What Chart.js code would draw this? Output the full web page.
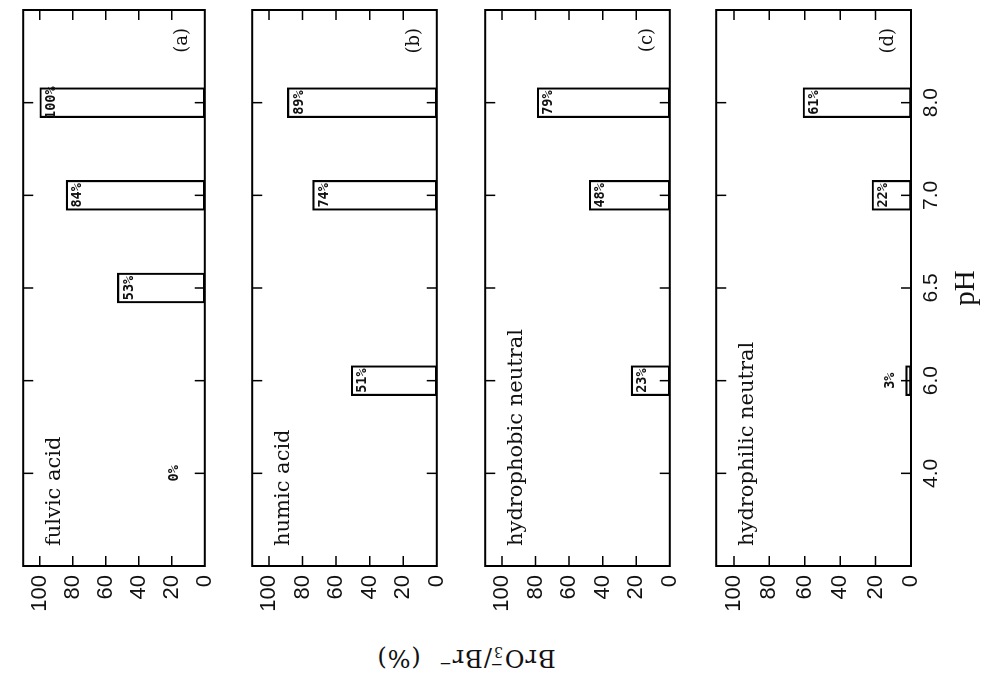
<!DOCTYPE html>
<html>
<head>
<meta charset="utf-8">
<script src="https://cdn.jsdelivr.net/npm/chart.js@4.4.1/dist/chart.umd.min.js"></script>
<style>
  html, body { margin: 0; padding: 0; background: #fff; overflow: hidden; width: 985px; height: 677px; }
  /* the figure is drawn upright, then turned a quarter left like the scan */
  #sheet { position: absolute; left: 154px; top: -154px; width: 677px; height: 985px;
           transform: rotate(-90deg); transform-origin: 50% 50%; background: #fff; }
  #sheet canvas { position: absolute; left: 0; }
  #ytitle { position: absolute; left: 21px; top: 466px; transform: translate(-50%, -50%) rotate(-90deg);
            font-family: "DejaVu Serif"; font-size: 24px; letter-spacing: 1px; white-space: nowrap; color: #111; line-height: 30px; }
  .ion { display: inline-block; position: relative; width: 12px; height: 10px; }
  .ion .m { position: absolute; left: 1px; top: -12px; font-size: 15px; line-height: 15px; }
  .ion .n { position: absolute; left: 1px; top: 1px; font-size: 14px; line-height: 14px; }
  .sup { font-size: 15px; position: relative; top: -9px; }
</style>
</head>
<body>
<div id="sheet">
  <div id="ytitle">BrO<span class="ion"><span class="m">−</span><span class="n">3</span></span>/Br<span class="sup">−</span>&nbsp;&nbsp;(%)</div>
</div>
<script>
// pH categories and BrO3-/Br- conversion (%) for each fraction
const phLabels = ['4.0', '6.0', '6.5', '7.0', '8.0'];
const fulvicAcid = [0, null, 53, 84, 100];
const humicAcid = [null, 51, null, 74, 89];
const hydrophobicNeutral = [null, 23, null, 48, 79];
const hydrophilicNeutral = [null, 3, null, 22, 61];
const percentTicks = [0, 20, 40, 60, 80, 100];
const panelNames = ['fulvic acid', 'humic acid', 'hydrophobic neutral', 'hydrophilic neutral'];
const panelTags = ['(a)', '(b)', '(c)', '(d)'];

// panel frames in the upright sheet
const panelTop = [11, 240, 473, 704];
const panelBottom = [217, 449, 682, 911];

const panelDeco = {
    id: 'panelDeco',
    afterDatasetsDraw(chart, args, opts) {
        const { ctx, chartArea: a, scales: { x, y } } = chart;
        ctx.save();
        ctx.strokeStyle = '#000';
        ctx.lineWidth = 2;
        ctx.strokeRect(a.left, a.top, a.right - a.left, a.bottom - a.top);

        // inward ticks on all four sides
        ctx.lineWidth = 1.5;
        ctx.beginPath();
        chart.data.labels.forEach((lab, i) => {
            if (!lab) return;
            const px = x.getPixelForValue(i);
            ctx.moveTo(px, a.top); ctx.lineTo(px, a.top + 10);
            ctx.moveTo(px, a.bottom); ctx.lineTo(px, a.bottom - 10);
        });
        percentTicks.forEach(v => {
            if (v === 0) return;
            const py = y.getPixelForValue(v);
            ctx.moveTo(a.left, py); ctx.lineTo(a.left + 10, py);
            ctx.moveTo(a.right, py); ctx.lineTo(a.right - 10, py);
        });
        ctx.stroke();

        // value labels on the bars
        const meta = chart.getDatasetMeta(0);
        const vals = chart.data.datasets[0].data;
        ctx.fillStyle = '#111';
        ctx.font = 'bold 13.5px "DejaVu Sans Mono"';
        ctx.textAlign = 'center';
        meta.data.forEach((bar, i) => {
            const v = vals[i];
            if (v === null || v === undefined) return;
            if (v >= 10) {
                ctx.textBaseline = 'top';
                ctx.fillText(v + '%', bar.x, bar.y + 5);
            } else {
                ctx.textBaseline = 'bottom';
                ctx.fillText(v + '%', bar.x, bar.y - (v === 0 ? 24 : 8));
            }
        });

        // fraction name and panel letter
        ctx.textBaseline = 'alphabetic';
        ctx.textAlign = 'left';
        ctx.font = '21px "DejaVu Serif"';
        ctx.fillText(opts.name, a.left + 20, a.top + 37);
        ctx.textAlign = 'right';
        ctx.font = '18px "DejaVu Serif"';
        ctx.fillText(opts.tag, a.right - 18, a.bottom - 18);
        ctx.restore();
    }
};

const sheet = document.getElementById('sheet');
const panelData = [fulvicAcid, humicAcid, hydrophobicNeutral, hydrophilicNeutral];

panelData.forEach((vals, k) => {
    const last = k === panelData.length - 1;
    const top = panelTop[k] - 10;
    const plotH = panelBottom[k] - panelTop[k];
    const h = last ? 985 - top : plotH + 20;

    const cv = document.createElement('canvas');
    cv.width = 677;
    cv.height = h;
    cv.style.top = top + 'px';
    sheet.appendChild(cv);

    new Chart(cv, {
        type: 'bar',
        data: {
            labels: ['', ...phLabels, ''],
            datasets: [{
                data: [null, ...vals, null],
                backgroundColor: 'rgba(255,255,255,0)',
                borderColor: '#000',
                borderWidth: 1.5,
                borderSkipped: false,
                barThickness: 30
            }]
        },
        options: {
            responsive: false,
            animation: false,
            layout: { padding: { top: 10, right: 10, left: 0, bottom: last ? 0 : 10 } },
            plugins: {
                legend: { display: false },
                tooltip: { enabled: false },
                panelDeco: { name: panelNames[k], tag: panelTags[k] }
            },
            scales: {
                x: {
                    offset: false,
                    grid: { display: false, drawTicks: false },
                    border: { display: false },
                    ticks: {
                        display: last,
                        autoSkip: false,
                        maxRotation: 0,
                        padding: 8,
                        color: '#111',
                        font: { family: 'Liberation Sans', size: 21 }
                    },
                    title: {
                        display: last,
                        text: 'pH',
                        color: '#111',
                        padding: { top: 0, bottom: 1 },
                        font: { family: 'Liberation Serif', size: 29 }
                    },
                    afterFit: s => { s.height = last ? h - 10 - plotH : 0; }
                },
                y: {
                    min: 0,
                    max: 110,
                    grid: { display: false, drawTicks: false },
                    border: { display: false },
                    afterBuildTicks: s => { s.ticks = percentTicks.map(v => ({ value: v })); },
                    ticks: {
                        padding: 9,
                        color: '#111',
                        font: { family: 'Liberation Sans', size: 22 }
                    },
                    afterFit: s => { s.width = 111; }
                }
            }
        },
        plugins: [panelDeco]
    });
});
</script>
</body>
</html>
